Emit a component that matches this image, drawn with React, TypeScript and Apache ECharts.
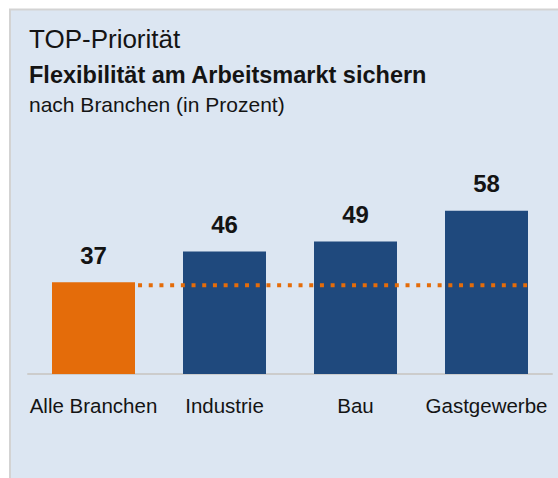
import React, { useEffect, useRef } from "react";
import * as echarts from "echarts";

const categories = ["Alle Branchen", "Industrie", "Bau", "Gastgewerbe"];
const values = [37, 46, 49, 58];
const barColors = ["#e46c0a", "#1f497d", "#1f497d", "#1f497d"];
const referenceLevel = 36.1;
const referenceSpan = [0.34, 3.31];
const titleLines = [
  "TOP-Priorität",
  "Flexibilität am Arbeitsmarkt sichern",
  "nach Branchen (in Prozent)",
];

const FONT = '"Liberation Sans", Arial, sans-serif';
const TEXT = "#141414";

export default function App() {
  const ref = useRef<HTMLDivElement>(null);
  useEffect(() => {
    const chart = echarts.init(ref.current!, null, { renderer: "svg" });
    chart.setOption({
      animation: false,
      backgroundColor: "#ffffff",
      graphic: [
        {
          type: "rect",
          z: -10,
          shape: { x: 10, y: 9.5, width: 600, height: 600 },
          style: { fill: "#dce6f2", stroke: "#d3d3d3", lineWidth: 2 },
        },
        {
          type: "text",
          x: 29,
          y: 39,
          style: {
            text: titleLines[0],
            fontFamily: FONT,
            fontSize: 26,
            fill: TEXT,
            verticalAlign: "middle",
          },
        },
        {
          type: "text",
          x: 29,
          y: 74.5,
          style: {
            text: titleLines[1],
            fontFamily: FONT,
            fontSize: 23.5,
            fontWeight: "bold",
            fill: TEXT,
            verticalAlign: "middle",
          },
        },
        {
          type: "text",
          x: 29,
          y: 104.5,
          style: {
            text: titleLines[2],
            fontFamily: FONT,
            fontSize: 21,
            fill: TEXT,
            verticalAlign: "middle",
          },
        },
      ],
      grid: { left: 28, right: 6, top: 170, bottom: 104 },
      xAxis: [
        {
          type: "category",
          data: categories,
          axisLine: { lineStyle: { color: "#cccccc", width: 2 } },
          axisTick: { show: false },
          axisLabel: {
            interval: 0,
            fontFamily: FONT,
            fontSize: 20.5,
            color: TEXT,
            margin: 21,
          },
        },
        { type: "value", min: -0.5, max: 3.5, show: false },
      ],
      yAxis: { type: "value", min: 10, max: 70, show: false, splitLine: { show: false } },
      series: [
        {
          type: "bar",
          z: 2,
          barWidth: 83,
          data: values.map((v, i) => ({ value: v, itemStyle: { color: barColors[i] } })),
          label: {
            show: true,
            position: "top",
            distance: 15,
            fontFamily: FONT,
            fontSize: 24,
            fontWeight: "bold",
            color: TEXT,
          },
        },
        {
          type: "line",
          z: 3,
          xAxisIndex: 1,
          silent: true,
          symbol: "none",
          data: [
            [referenceSpan[0], referenceLevel],
            [referenceSpan[1], referenceLevel],
          ],
          lineStyle: { color: "#e46c0a", width: 4, type: [4, 6.7], cap: "butt" },
        },
      ],
    });
    return () => chart.dispose();
  }, []);
  return (
    <div
      ref={ref}
      style={{ position: "fixed", left: 0, top: 0, width: 558, height: 478 }}
    />
  );
}
